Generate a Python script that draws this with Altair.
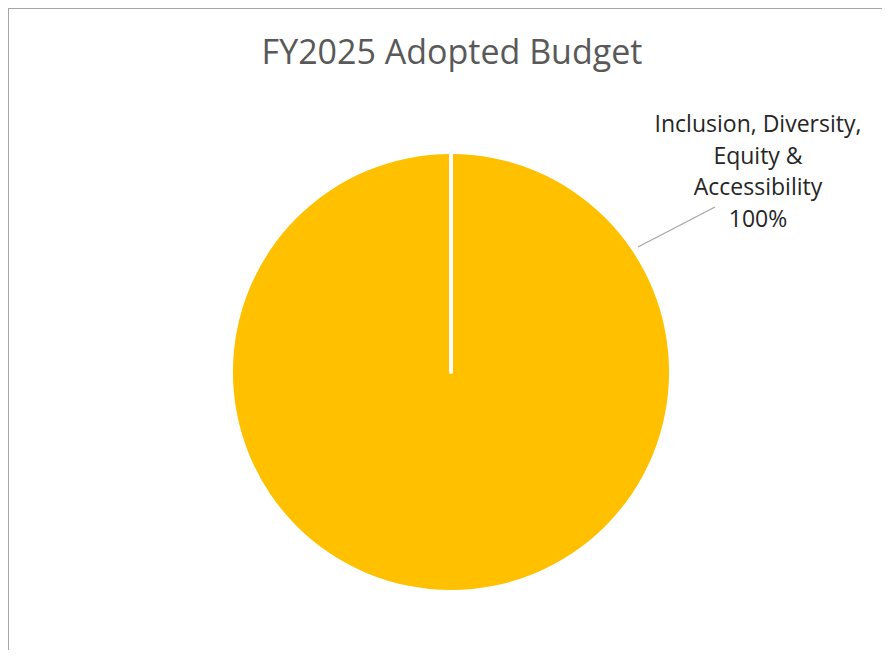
import altair as alt
import pandas as pd

categories = ["Inclusion, Diversity, Equity & Accessibility"]
label_lines = ["Inclusion, Diversity,", "Equity &", "Accessibility"]
shares = [100]
colors = ["#FFC000"]

df = pd.DataFrame({"category": categories, "share": shares})
df["label"] = "\n".join(label_lines) + "\n" + (df["share"] / df["share"].sum() * 100).round(0).astype(int).astype(str) + "%"

W, H = 874, 642
CX, CY, R = 443, 364, 218

base = alt.Chart(df)

pie = base.mark_arc(outerRadius=R, stroke=None).encode(
    theta=alt.Theta("share:Q", stack=True),
    color=alt.Color("category:N", scale=alt.Scale(domain=categories, range=colors), legend=None),
    x=alt.value(CX), y=alt.value(CY),
)

separator = base.mark_arc(outerRadius=R, fill=None, stroke="white", strokeWidth=4, strokeJoin="round").encode(
    theta=alt.value(0), theta2=alt.value(0.00001),
    x=alt.value(CX), y=alt.value(CY),
)

leader = base.mark_rule(color="#A6A6A6", strokeWidth=1.3).encode(
    x=alt.value(630), y=alt.value(239), x2=alt.value(707), y2=alt.value(199)
)

label = base.mark_text(lineBreak="\n", font="Open Sans", fontSize=23, lineHeight=31.5,
                       align="center", baseline="alphabetic", color="#262626").encode(
    text="label:N", x=alt.value(750), y=alt.value(124)
)

border_left = base.mark_rule(color="#A6A6A6", strokeWidth=2).encode(
    x=alt.value(0), y=alt.value(0), y2=alt.value(H)
)
border_top = base.mark_rule(color="#A6A6A6", strokeWidth=2).encode(
    y=alt.value(0), x=alt.value(0), x2=alt.value(W)
)

chart = alt.layer(pie, separator, leader, label, border_left, border_top).properties(
    width=W, height=H, padding=0, autosize=alt.AutoSizeParams(type="none"),
    title=alt.TitleParams("FY2025 Adopted Budget", font="Open Sans", fontSize=34, fontWeight="normal",
                          color="#595959", anchor="middle", dy=64, dx=7, offset=0),
).configure_view(stroke=None)

chart.save("out.html", embed_options={"renderer": "svg", "actions": False})
